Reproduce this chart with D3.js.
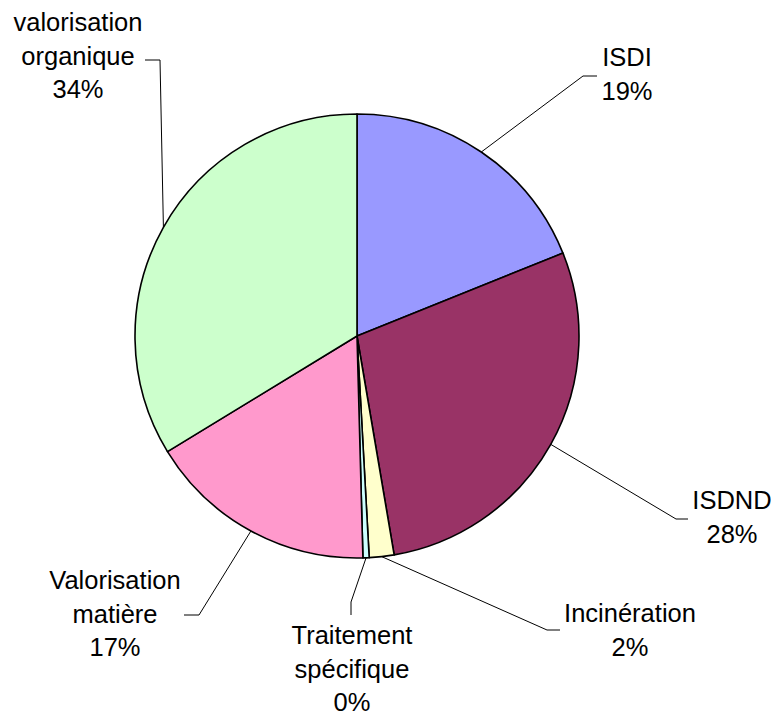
<!DOCTYPE html>
<html>
<head>
<meta charset="utf-8">
<script src="https://cdn.jsdelivr.net/npm/d3@7"></script>
<style>
  body { margin: 0; background: #ffffff; }
  svg { display: block; }
</style>
</head>
<body>
<script>
const [width, height] = [771, 713];

// slices, clockwise from 12 o'clock
const categories = ["ISDI", "ISDND", "Incinération", "Traitement spécifique", "Valorisation matière", "valorisation organique"];
const shares = [18.9, 28.4, 1.8, 0.45, 16.7, 33.7];
const colors = ["#9999ff", "#993366", "#ffffcc", "#ccffff", "#ff99cc", "#ccffcc"];

// label lines (text broken as in the picture)
const labelLines = [["ISDI"], ["ISDND"], ["Incinération"], ["Traitement", "spécifique"], ["Valorisation", "matière"], ["valorisation", "organique"]];

// label layout: text centre x, first baseline y, elbow point, end of horizontal tick
const labelLayout = [
    {x: 627, y: 66, elbow: [583, 76], end: [597, 76]},
    {x: 732, y: 509, elbow: [676, 519], end: [688, 519]},
    {x: 630, y: 622, elbow: [547, 630], end: [560, 630]},
    {x: 352, y: 644, elbow: [351, 602], end: [351, 615]},
    {x: 115, y: 589, elbow: [199, 615], end: [184, 615]},
    {x: 78, y: 31, elbow: [160, 60], end: [145, 60]}
];

const cx = 357, cy = 336, radius = 222;
const lineHeight = 33.5;

const svg = d3.select("body").append("svg")
    .attr("width", width)
    .attr("height", height)
    .attr("viewBox", [0, 0, width, height]);

svg.append("rect")
    .attr("width", width)
    .attr("height", height)
    .attr("fill", "#ffffff");

const pie = d3.pie().sort(null).value(d => d)(shares);
const arc = d3.arc().innerRadius(0).outerRadius(radius);
const rimArc = d3.arc().innerRadius(radius).outerRadius(radius);

const g = svg.append("g").attr("transform", `translate(${cx},${cy})`);

g.selectAll("path")
    .data(pie)
    .join("path")
        .attr("d", arc)
        .attr("fill", (d, i) => colors[i])
        .attr("stroke", "#000000")
        .attr("stroke-width", 1.6)
        .attr("stroke-linejoin", "round");

const total = d3.sum(shares);

// leader lines
svg.append("g")
    .attr("fill", "none")
    .attr("stroke", "#000000")
    .attr("stroke-width", 1)
    .selectAll("polyline")
    .data(pie)
    .join("polyline")
        .attr("points", (d, i) => {
            const [px, py] = rimArc.centroid(d);
            const L = labelLayout[i];
            return [[cx + px, cy + py], L.elbow, L.end].map(p => p.join(",")).join(" ");
        });

// labels
const labels = svg.append("g")
    .attr("font-family", "'Liberation Sans', Arial, sans-serif")
    .attr("font-size", 25.5)
    .attr("fill", "#000000")
    .attr("text-anchor", "middle")
    .selectAll("text")
    .data(pie)
    .join("text")
        .attr("x", (d, i) => labelLayout[i].x)
        .attr("y", (d, i) => labelLayout[i].y);

labels.each(function(d, i) {
    const lines = labelLines[i].concat([Math.round(d.value / total * 100) + "%"]);
    d3.select(this).selectAll("tspan")
        .data(lines)
        .join("tspan")
            .attr("x", labelLayout[i].x)
            .attr("dy", (t, j) => j === 0 ? 0 : lineHeight)
            .text(t => t);
});
</script>
</body>
</html>
